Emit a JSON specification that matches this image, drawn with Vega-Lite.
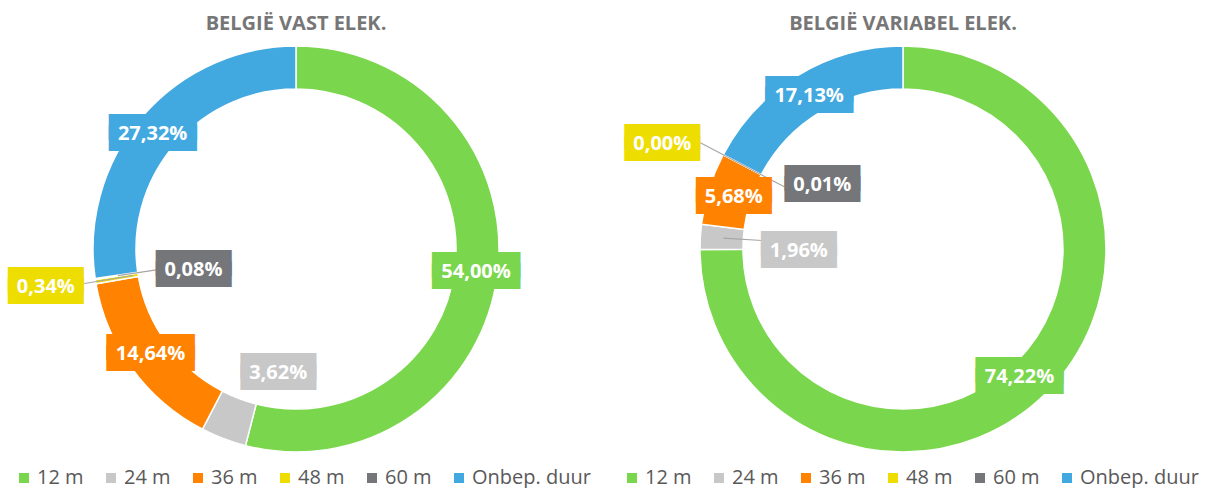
{
  "$schema": "https://vega.github.io/schema/vega-lite/v6.json",
  "background": "white",
  "padding": {"left": 0, "top": 14, "right": 0, "bottom": 0},
  "bounds": "flush",
  "datasets": {
    "vast": [
      {"cat": "12 m", "value": 54.00, "label": "54,00%"},
      {"cat": "24 m", "value": 3.62, "label": "3,62%"},
      {"cat": "36 m", "value": 14.64, "label": "14,64%"},
      {"cat": "48 m", "value": 0.34, "label": "0,34%"},
      {"cat": "60 m", "value": 0.08, "label": "0,08%"},
      {"cat": "Onbep. duur", "value": 27.32, "label": "27,32%"}
    ],
    "variabel": [
      {"cat": "12 m", "value": 74.22, "label": "74,22%"},
      {"cat": "24 m", "value": 1.96, "label": "1,96%"},
      {"cat": "36 m", "value": 5.68, "label": "5,68%"},
      {"cat": "48 m", "value": 0.00, "label": "0,00%"},
      {"cat": "60 m", "value": 0.01, "label": "0,01%"},
      {"cat": "Onbep. duur", "value": 17.13, "label": "17,13%"}
    ]
  },
  "spacing": 15,
  "resolve": {"scale": {"color": "independent", "stroke": "independent"}, "legend": {"color": "independent"}},
  "config": {"view": {"stroke": null}, "font": "Open Sans"},
  "hconcat": [
    {
      "width": 592, "height": 406,
      "data": {"name": "vast"},
      "title": {"text": "BELGIË VAST ELEK.", "fontSize": 20, "font": "Open Sans", "fontWeight": "bold", "color": "#767676", "offset": 9, "anchor": "middle", "frame": "group"},
      "encoding": {
        "theta": {"field": "value", "type": "quantitative", "stack": true},
        "order": {"field": "cat", "type": "ordinal", "sort": "ascending"},
        "detail": {"field": "cat", "type": "nominal"},
        "color": {"field": "cat", "type": "nominal",
          "scale": {"domain": ["12 m", "24 m", "36 m", "48 m", "60 m", "Onbep. duur"], "range": ["#7AD64C", "#C8C8C8", "#FF8200", "#EEDD00", "#747679", "#42A8E0"]},
          "legend": {"orient": "none", "legendX": 14, "legendY": 422, "direction": "horizontal", "columns": 6, "title": null, "symbolType": "square", "symbolSize": 100, "symbolStrokeWidth": 0, "labelFontSize": 20, "labelFont": "Open Sans", "labelColor": "#595959", "labelOffset": 3, "columnPadding": 17}}
      },
      "layer": [
        {"mark": {"type": "arc", "outerRadius": 203, "innerRadius": 160, "stroke": "#FFFFFF", "strokeWidth": 1.5}},
        {"mark": {"type": "arc", "outerRadius": 216, "innerRadius": 165, "padAngle": 0.3, "stroke": "#A6A6A6", "strokeWidth": 1.2, "clip": true},
         "encoding": {"color": {"value": "transparent"}, "opacity": {"condition": {"test": "datum.cat === '48 m'", "value": 1}, "value": 0}}},
        {"mark": {"type": "arc", "outerRadius": 180, "innerRadius": 141, "padAngle": 0.3, "stroke": "#A6A6A6", "strokeWidth": 1.2, "clip": true},
         "encoding": {"color": {"value": "transparent"}, "opacity": {"condition": {"test": "datum.cat === '60 m'", "value": 1}, "value": 0}}},

        {"mark": {"type": "text", "radius": 181.5, "font": "DejaVu Sans Mono", "fontSize": 20.5, "lineHeight": 11, "baseline": "middle", "align": "center", "dx": 0, "dy": -6, "strokeWidth": 1.5},
         "encoding": {"stroke": {"field": "cat", "type": "nominal", "scale": {"domain": ["12 m", "24 m", "36 m", "48 m", "60 m", "Onbep. duur"], "range": ["#7AD64C", "#C8C8C8", "#FF8200", "#EEDD00", "#747679", "#42A8E0"]}, "legend": null},
           "text": {"condition": {"test": "datum.cat === '12 m'", "value": ["███████", "███████"]}, "value": ""}}},
        {"mark": {"type": "text", "radius": 181.5, "font": "Open Sans", "fontSize": 20, "fontWeight": "bold", "baseline": "middle", "align": "center", "dx": 0, "dy": 0},
         "encoding": {"color": {"value": "#FFFFFF"}, "text": {"field": "label", "type": "nominal", "condition": {"test": "datum.cat !== '12 m'", "value": ""}}}},

        {"mark": {"type": "text", "radius": 181.5, "font": "DejaVu Sans Mono", "fontSize": 20.5, "lineHeight": 11, "baseline": "middle", "align": "center", "dx": 47, "dy": -52, "strokeWidth": 1.5},
         "encoding": {"stroke": {"field": "cat", "type": "nominal", "scale": {"domain": ["12 m", "24 m", "36 m", "48 m", "60 m", "Onbep. duur"], "range": ["#7AD64C", "#C8C8C8", "#FF8200", "#EEDD00", "#747679", "#42A8E0"]}, "legend": null},
           "text": {"condition": {"test": "datum.cat === '24 m'", "value": ["██████", "██████"]}, "value": ""}}},
        {"mark": {"type": "text", "radius": 181.5, "font": "Open Sans", "fontSize": 20, "fontWeight": "bold", "baseline": "middle", "align": "center", "dx": 47, "dy": -46},
         "encoding": {"color": {"value": "#FFFFFF"}, "text": {"field": "label", "type": "nominal", "condition": {"test": "datum.cat !== '24 m'", "value": ""}}}},

        {"mark": {"type": "text", "radius": 181.5, "font": "DejaVu Sans Mono", "fontSize": 20.5, "lineHeight": 11, "baseline": "middle", "align": "center", "dx": 1, "dy": -8, "strokeWidth": 1.5},
         "encoding": {"stroke": {"field": "cat", "type": "nominal", "scale": {"domain": ["12 m", "24 m", "36 m", "48 m", "60 m", "Onbep. duur"], "range": ["#7AD64C", "#C8C8C8", "#FF8200", "#EEDD00", "#747679", "#42A8E0"]}, "legend": null},
           "text": {"condition": {"test": "datum.cat === '36 m'", "value": ["███████", "███████"]}, "value": ""}}},
        {"mark": {"type": "text", "radius": 181.5, "font": "Open Sans", "fontSize": 20, "fontWeight": "bold", "baseline": "middle", "align": "center", "dx": 1, "dy": -2},
         "encoding": {"color": {"value": "#FFFFFF"}, "text": {"field": "label", "type": "nominal", "condition": {"test": "datum.cat !== '36 m'", "value": ""}}}},

        {"mark": {"type": "text", "radius": 181.5, "font": "DejaVu Sans Mono", "fontSize": 20.5, "lineHeight": 11, "baseline": "middle", "align": "center", "dx": -71, "dy": 3, "strokeWidth": 1.5},
         "encoding": {"stroke": {"field": "cat", "type": "nominal", "scale": {"domain": ["12 m", "24 m", "36 m", "48 m", "60 m", "Onbep. duur"], "range": ["#7AD64C", "#C8C8C8", "#FF8200", "#EEDD00", "#747679", "#42A8E0"]}, "legend": null},
           "text": {"condition": {"test": "datum.cat === '48 m'", "value": ["██████", "██████"]}, "value": ""}}},
        {"mark": {"type": "text", "radius": 181.5, "font": "Open Sans", "fontSize": 20, "fontWeight": "bold", "baseline": "middle", "align": "center", "dx": -71, "dy": 9},
         "encoding": {"color": {"value": "#FFFFFF"}, "text": {"field": "label", "type": "nominal", "condition": {"test": "datum.cat !== '48 m'", "value": ""}}}},

        {"mark": {"type": "text", "radius": 181.5, "font": "DejaVu Sans Mono", "fontSize": 20.5, "lineHeight": 11, "baseline": "middle", "align": "center", "dx": 77, "dy": -12, "strokeWidth": 1.5},
         "encoding": {"stroke": {"field": "cat", "type": "nominal", "scale": {"domain": ["12 m", "24 m", "36 m", "48 m", "60 m", "Onbep. duur"], "range": ["#7AD64C", "#C8C8C8", "#FF8200", "#EEDD00", "#747679", "#42A8E0"]}, "legend": null},
           "text": {"condition": {"test": "datum.cat === '60 m'", "value": ["██████", "██████"]}, "value": ""}}},
        {"mark": {"type": "text", "radius": 181.5, "font": "Open Sans", "fontSize": 20, "fontWeight": "bold", "baseline": "middle", "align": "center", "dx": 77, "dy": -6},
         "encoding": {"color": {"value": "#FFFFFF"}, "text": {"field": "label", "type": "nominal", "condition": {"test": "datum.cat !== '60 m'", "value": ""}}}},

        {"mark": {"type": "text", "radius": 181.5, "font": "DejaVu Sans Mono", "fontSize": 20.5, "lineHeight": 11, "baseline": "middle", "align": "center", "dx": -6, "dy": -2, "strokeWidth": 1.5},
         "encoding": {"stroke": {"field": "cat", "type": "nominal", "scale": {"domain": ["12 m", "24 m", "36 m", "48 m", "60 m", "Onbep. duur"], "range": ["#7AD64C", "#C8C8C8", "#FF8200", "#EEDD00", "#747679", "#42A8E0"]}, "legend": null},
           "text": {"condition": {"test": "datum.cat === 'Onbep. duur'", "value": ["███████", "███████"]}, "value": ""}}},
        {"mark": {"type": "text", "radius": 181.5, "font": "Open Sans", "fontSize": 20, "fontWeight": "bold", "baseline": "middle", "align": "center", "dx": -6, "dy": 4},
         "encoding": {"color": {"value": "#FFFFFF"}, "text": {"field": "label", "type": "nominal", "condition": {"test": "datum.cat !== 'Onbep. duur'", "value": ""}}}}
      ]
    },
    {
      "width": 592, "height": 406,
      "data": {"name": "variabel"},
      "title": {"text": "BELGIË VARIABEL ELEK.", "fontSize": 20, "font": "Open Sans", "fontWeight": "bold", "color": "#767676", "offset": 9, "anchor": "middle", "frame": "group"},
      "encoding": {
        "theta": {"field": "value", "type": "quantitative", "stack": true},
        "order": {"field": "cat", "type": "ordinal", "sort": "ascending"},
        "detail": {"field": "cat", "type": "nominal"},
        "color": {"field": "cat", "type": "nominal",
          "scale": {"domain": ["12 m", "24 m", "36 m", "48 m", "60 m", "Onbep. duur"], "range": ["#7AD64C", "#C8C8C8", "#FF8200", "#EEDD00", "#747679", "#42A8E0"]},
          "legend": {"orient": "none", "legendX": 15, "legendY": 422, "direction": "horizontal", "columns": 6, "title": null, "symbolType": "square", "symbolSize": 100, "symbolStrokeWidth": 0, "labelFontSize": 20, "labelFont": "Open Sans", "labelColor": "#595959", "labelOffset": 3, "columnPadding": 17}}
      },
      "layer": [
        {"mark": {"type": "arc", "outerRadius": 203, "innerRadius": 160, "stroke": "#FFFFFF", "strokeWidth": 1.5}},
        {"mark": {"type": "arc", "outerRadius": 180, "innerRadius": 141, "padAngle": 0.3, "stroke": "#A6A6A6", "strokeWidth": 1.2, "clip": true},
         "encoding": {"color": {"value": "transparent"}, "opacity": {"condition": {"test": "datum.cat === '24 m'", "value": 1}, "value": 0}}},
        {"mark": {"type": "arc", "outerRadius": 231, "innerRadius": 134, "padAngle": 0.3, "stroke": "#A6A6A6", "strokeWidth": 1.2, "clip": true},
         "encoding": {"color": {"value": "transparent"}, "opacity": {"condition": {"test": "datum.cat === '48 m'", "value": 1}, "value": 0}}},

        {"mark": {"type": "text", "radius": 181.5, "font": "DejaVu Sans Mono", "fontSize": 20.5, "lineHeight": 11, "baseline": "middle", "align": "center", "dx": -12, "dy": -6, "strokeWidth": 1.5},
         "encoding": {"stroke": {"field": "cat", "type": "nominal", "scale": {"domain": ["12 m", "24 m", "36 m", "48 m", "60 m", "Onbep. duur"], "range": ["#7AD64C", "#C8C8C8", "#FF8200", "#EEDD00", "#747679", "#42A8E0"]}, "legend": null},
           "text": {"condition": {"test": "datum.cat === '12 m'", "value": ["███████", "███████"]}, "value": ""}}},
        {"mark": {"type": "text", "radius": 181.5, "font": "Open Sans", "fontSize": 20, "fontWeight": "bold", "baseline": "middle", "align": "center", "dx": -12, "dy": 0},
         "encoding": {"color": {"value": "#FFFFFF"}, "text": {"field": "label", "type": "nominal", "condition": {"test": "datum.cat !== '12 m'", "value": ""}}}},

        {"mark": {"type": "text", "radius": 181.5, "font": "DejaVu Sans Mono", "fontSize": 20.5, "lineHeight": 11, "baseline": "middle", "align": "center", "dx": 77, "dy": 7, "strokeWidth": 1.5},
         "encoding": {"stroke": {"field": "cat", "type": "nominal", "scale": {"domain": ["12 m", "24 m", "36 m", "48 m", "60 m", "Onbep. duur"], "range": ["#7AD64C", "#C8C8C8", "#FF8200", "#EEDD00", "#747679", "#42A8E0"]}, "legend": null},
           "text": {"condition": {"test": "datum.cat === '24 m'", "value": ["██████", "██████"]}, "value": ""}}},
        {"mark": {"type": "text", "radius": 181.5, "font": "Open Sans", "fontSize": 20, "fontWeight": "bold", "baseline": "middle", "align": "center", "dx": 77, "dy": 13},
         "encoding": {"color": {"value": "#FFFFFF"}, "text": {"field": "label", "type": "nominal", "condition": {"test": "datum.cat !== '24 m'", "value": ""}}}},

        {"mark": {"type": "text", "radius": 181.5, "font": "DejaVu Sans Mono", "fontSize": 20.5, "lineHeight": 11, "baseline": "middle", "align": "center", "dx": 4, "dy": -4, "strokeWidth": 1.5},
         "encoding": {"stroke": {"field": "cat", "type": "nominal", "scale": {"domain": ["12 m", "24 m", "36 m", "48 m", "60 m", "Onbep. duur"], "range": ["#7AD64C", "#C8C8C8", "#FF8200", "#EEDD00", "#747679", "#42A8E0"]}, "legend": null},
           "text": {"condition": {"test": "datum.cat === '36 m'", "value": ["██████", "██████"]}, "value": ""}}},
        {"mark": {"type": "text", "radius": 181.5, "font": "Open Sans", "fontSize": 20, "fontWeight": "bold", "baseline": "middle", "align": "center", "dx": 4, "dy": 2},
         "encoding": {"color": {"value": "#FFFFFF"}, "text": {"field": "label", "type": "nominal", "condition": {"test": "datum.cat !== '36 m'", "value": ""}}}},

        {"mark": {"type": "text", "radius": 181.5, "font": "DejaVu Sans Mono", "fontSize": 20.5, "lineHeight": 11, "baseline": "middle", "align": "center", "dx": -80, "dy": -27, "strokeWidth": 1.5},
         "encoding": {"stroke": {"field": "cat", "type": "nominal", "scale": {"domain": ["12 m", "24 m", "36 m", "48 m", "60 m", "Onbep. duur"], "range": ["#7AD64C", "#C8C8C8", "#FF8200", "#EEDD00", "#747679", "#42A8E0"]}, "legend": null},
           "text": {"condition": {"test": "datum.cat === '48 m'", "value": ["██████", "██████"]}, "value": ""}}},
        {"mark": {"type": "text", "radius": 181.5, "font": "Open Sans", "fontSize": 20, "fontWeight": "bold", "baseline": "middle", "align": "center", "dx": -80, "dy": -21},
         "encoding": {"color": {"value": "#FFFFFF"}, "text": {"field": "label", "type": "nominal", "condition": {"test": "datum.cat !== '48 m'", "value": ""}}}},

        {"mark": {"type": "text", "radius": 181.5, "font": "DejaVu Sans Mono", "fontSize": 20.5, "lineHeight": 11, "baseline": "middle", "align": "center", "dx": 80, "dy": 14, "strokeWidth": 1.5},
         "encoding": {"stroke": {"field": "cat", "type": "nominal", "scale": {"domain": ["12 m", "24 m", "36 m", "48 m", "60 m", "Onbep. duur"], "range": ["#7AD64C", "#C8C8C8", "#FF8200", "#EEDD00", "#747679", "#42A8E0"]}, "legend": null},
           "text": {"condition": {"test": "datum.cat === '60 m'", "value": ["██████", "██████"]}, "value": ""}}},
        {"mark": {"type": "text", "radius": 181.5, "font": "Open Sans", "fontSize": 20, "fontWeight": "bold", "baseline": "middle", "align": "center", "dx": 80, "dy": 20},
         "encoding": {"color": {"value": "#FFFFFF"}, "text": {"field": "label", "type": "nominal", "condition": {"test": "datum.cat !== '60 m'", "value": ""}}}},

        {"mark": {"type": "text", "radius": 181.5, "font": "DejaVu Sans Mono", "fontSize": 20.5, "lineHeight": 11, "baseline": "middle", "align": "center", "dx": 0, "dy": -4, "strokeWidth": 1.5},
         "encoding": {"stroke": {"field": "cat", "type": "nominal", "scale": {"domain": ["12 m", "24 m", "36 m", "48 m", "60 m", "Onbep. duur"], "range": ["#7AD64C", "#C8C8C8", "#FF8200", "#EEDD00", "#747679", "#42A8E0"]}, "legend": null},
           "text": {"condition": {"test": "datum.cat === 'Onbep. duur'", "value": ["███████", "███████"]}, "value": ""}}},
        {"mark": {"type": "text", "radius": 181.5, "font": "Open Sans", "fontSize": 20, "fontWeight": "bold", "baseline": "middle", "align": "center", "dx": 0, "dy": 2},
         "encoding": {"color": {"value": "#FFFFFF"}, "text": {"field": "label", "type": "nominal", "condition": {"test": "datum.cat !== 'Onbep. duur'", "value": ""}}}}
      ]
    }
  ]
}
